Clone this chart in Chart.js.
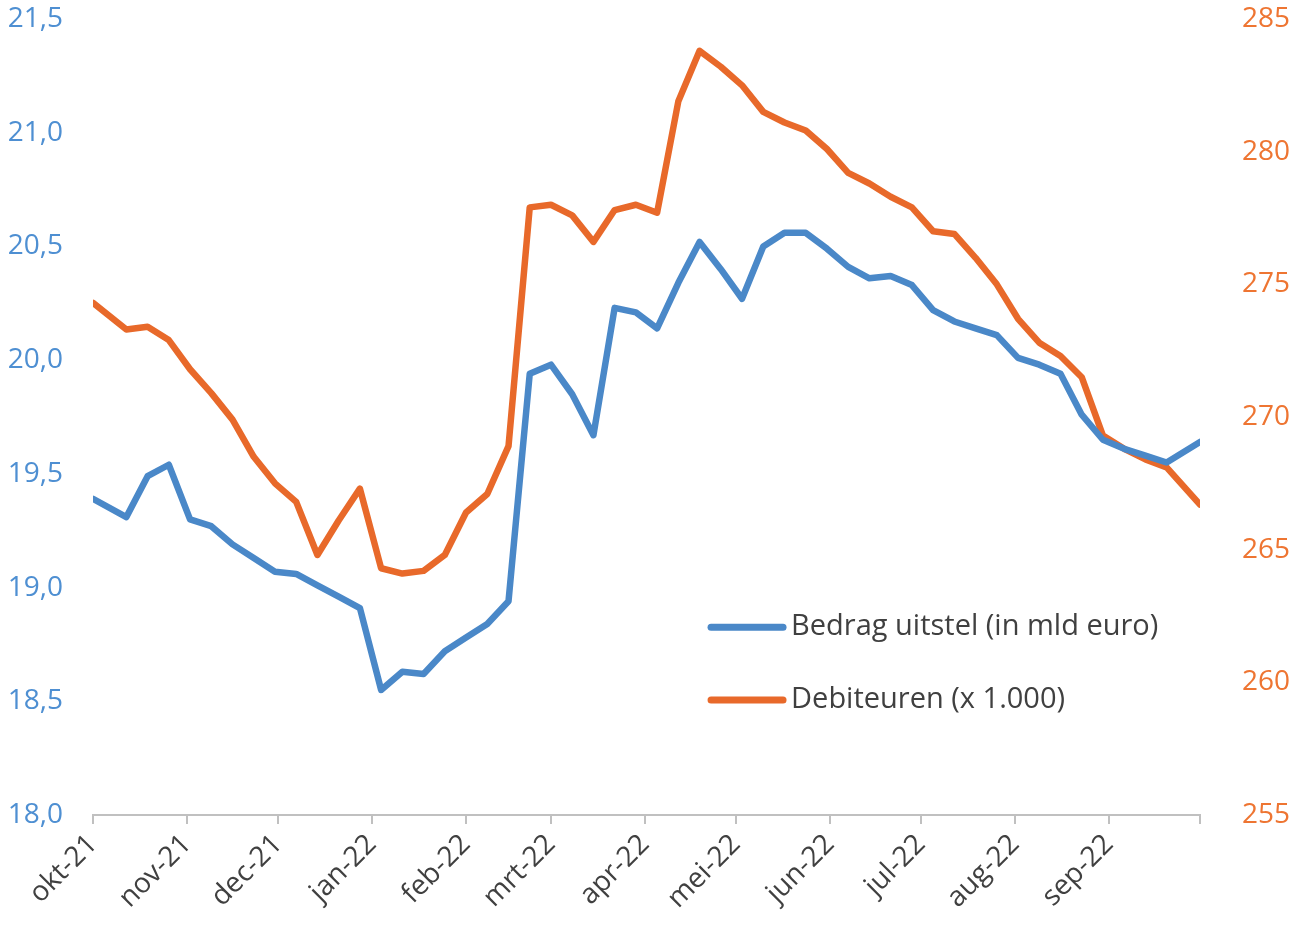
<!DOCTYPE html>
<html lang="nl">
<head>
<meta charset="utf-8">
<title>Bedrag uitstel en debiteuren</title>
<script src="https://cdn.jsdelivr.net/npm/chart.js@4/dist/chart.umd.min.js"></script>
<style>
    html, body { margin: 0; padding: 0; background: #fff; }
    #grafiek { display: block; }
</style>
</head>
<body>
<canvas id="grafiek" width="1299" height="937"></canvas>
<script>
// --- DATA ---

// dagen sinds 1 okt 2021 (wekelijkse standen)
const dagen = [0, 11, 18, 25, 32, 39, 46, 53, 60, 67, 74, 81, 88, 95, 102, 109, 116, 123, 130, 137,
    144, 151, 158, 165, 172, 179, 186, 193, 200, 207, 214, 221, 228, 235, 242, 249, 256, 263, 270,
    277, 284, 291, 298, 305, 312, 319, 326, 333, 340, 347, 354, 365];

// Bedrag uitstel (in mld euro) - linker as
const bedragUitstel = [19.39, 19.31, 19.49, 19.54, 19.30, 19.27, 19.19, 19.13, 19.07, 19.06, 19.01,
    18.96, 18.91, 18.55, 18.63, 18.62, 18.72, 18.78, 18.84, 18.94, 19.94, 19.98, 19.85, 19.67, 20.23,
    20.21, 20.14, 20.34, 20.52, 20.40, 20.27, 20.50, 20.56, 20.56, 20.49, 20.41, 20.36, 20.37, 20.33,
    20.22, 20.17, 20.14, 20.11, 20.01, 19.98, 19.94, 19.76, 19.65, 19.61, 19.58, 19.55, 19.64];

// Debiteuren (x 1.000) - rechter as
const debiteuren = [274.3, 273.3, 273.4, 272.9, 271.8, 270.9, 269.9, 268.5, 267.5, 266.8, 264.8,
    266.1, 267.3, 264.3, 264.1, 264.2, 264.8, 266.4, 267.1, 268.9, 277.9, 278.0, 277.6, 276.6, 277.8,
    278.0, 277.7, 281.9, 283.8, 283.2, 282.5, 281.5, 281.1, 280.8, 280.1, 279.2, 278.8, 278.3, 277.9,
    277.0, 276.9, 276.0, 275.0, 273.7, 272.8, 272.3, 271.5, 269.3, 268.8, 268.4, 268.1, 266.7];

// begin van elke maand (in dagen) en de labels
const maandStart = [0, 31, 61, 92, 123, 151, 182, 212, 243, 273, 304, 335, 365];
const maandLabels = ['okt-21', 'nov-21', 'dec-21', 'jan-22', 'feb-22', 'mrt-22', 'apr-22',
    'mei-22', 'jun-22', 'jul-22', 'aug-22', 'sep-22', ''];

const BLAUW = '#4a88c8';
const ORANJE = '#e8692a';
const FONT = "'Open Sans', 'Noto Sans', sans-serif";

function punten(waarden) {
    return dagen.map((d, i) => ({ x: d, y: waarden[i] }));
}

// vaste maten van de assen, zodat het grafiekvlak op dezelfde plek staat
function vasteBreedte(breedte) {
    return (scale) => {
        scale.width = breedte;
        scale.paddingTop = 19;
        scale.paddingBottom = 0;
    };
}

// legenda binnen het grafiekvlak, rechtsonder
const legendaBinnen = {
    id: 'legendaBinnen',
    afterDatasetsDraw(chart) {
        const { ctx, chartArea: a } = chart;
        const x0 = a.left + (a.right - a.left) * 0.5556;
        const rijen = [0.764, 0.8555];
        ctx.save();
        chart.data.datasets.forEach((ds, i) => {
            const y = a.top + (a.bottom - a.top) * rijen[i];
            ctx.strokeStyle = ds.borderColor;
            ctx.lineWidth = 7;
            ctx.lineCap = 'round';
            ctx.beginPath();
            ctx.moveTo(x0 + 3, y);
            ctx.lineTo(x0 + 75, y);
            ctx.stroke();
            ctx.fillStyle = '#404040';
            ctx.font = `29px ${FONT}`;
            ctx.textBaseline = 'middle';
            ctx.fillText(ds.label, x0 + 83, y);
        });
        ctx.restore();
    }
};

new Chart(document.getElementById('grafiek'), {
    type: 'line',
    data: {
        datasets: [
            {
                label: 'Bedrag uitstel (in mld euro)',
                data: punten(bedragUitstel),
                borderColor: BLAUW,
                borderWidth: 6.5,
                yAxisID: 'yLinks'
            },
            {
                label: 'Debiteuren (x 1.000)',
                data: punten(debiteuren),
                borderColor: ORANJE,
                borderWidth: 6.5,
                yAxisID: 'yRechts'
            }
        ]
    },
    options: {
        responsive: false,
        animation: false,
        devicePixelRatio: 1,
        elements: {
            point: { radius: 0 },
            line: { tension: 0, borderJoinStyle: 'round', borderCapStyle: 'round' }
        },
        layout: { padding: 0 },
        plugins: {
            legend: { display: false },
            tooltip: { enabled: false }
        },
        scales: {
            x: {
                type: 'linear',
                min: 0,
                max: 365,
                afterBuildTicks: (scale) => {
                    scale.ticks = maandStart.map(v => ({ value: v }));
                },
                afterFit: (scale) => { scale.height = 122; },
                grid: {
                    drawOnChartArea: false,
                    drawTicks: true,
                    tickLength: 9,
                    color: '#c0c0c0',
                    lineWidth: 2
                },
                border: { display: true, color: '#c0c0c0', width: 2 },
                ticks: {
                    autoSkip: false,
                    maxRotation: 45,
                    minRotation: 45,
                    padding: 4,
                    color: '#404040',
                    font: { family: FONT, size: 28 },
                    callback: (v) => maandLabels[maandStart.indexOf(v)]
                }
            },
            yLinks: {
                position: 'left',
                min: 18,
                max: 21.5,
                afterFit: vasteBreedte(93),
                grid: { display: false },
                border: { display: false },
                ticks: {
                    stepSize: 0.5,
                    padding: 22,
                    color: '#4e8fd2',
                    font: { family: FONT, size: 28 },
                    callback: (v) => v.toFixed(1).replace('.', ',')
                }
            },
            yRechts: {
                position: 'right',
                min: 255,
                max: 285,
                afterFit: vasteBreedte(99),
                grid: { display: false },
                border: { display: false },
                ticks: {
                    stepSize: 5,
                    padding: 34,
                    color: '#ee7532',
                    font: { family: FONT, size: 28 }
                }
            }
        }
    },
    plugins: [legendaBinnen]
});
</script>
</body>
</html>
